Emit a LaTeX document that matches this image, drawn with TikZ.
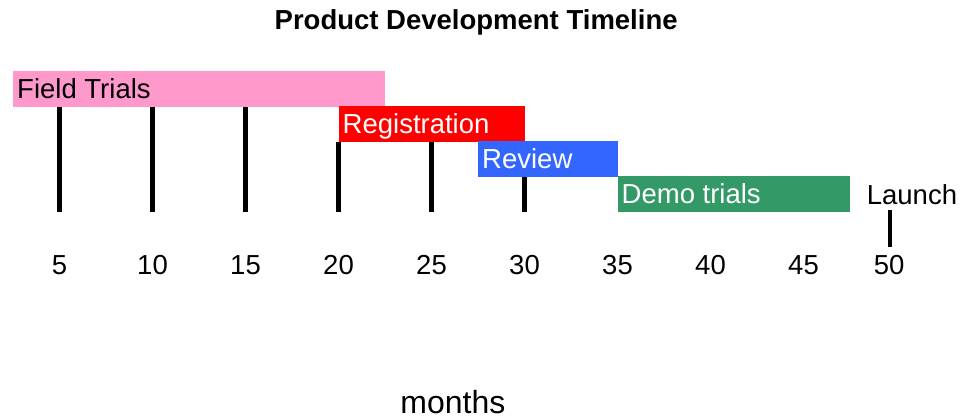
\documentclass[tikz,border=0pt]{standalone}
\usepackage{fontspec}
\setmainfont{Liberation Sans}
\definecolor{trialpink}{RGB}{255,153,204}
\definecolor{regred}{RGB}{255,0,0}
\definecolor{reviewblue}{RGB}{51,102,255}
\definecolor{demogreen}{RGB}{51,153,102}

\begin{document}
\begin{tikzpicture}[x=18.6pt, y=-1pt,
  bartext/.style={anchor=west, inner xsep=4pt, inner ysep=0pt, text height=19.8pt, text depth=0pt, font=\fontsize{27.5}{30}\selectfont},
  tickline/.style={line width=4.7pt},
  monthlabel/.style={font=\fontsize{27.5}{30}\selectfont}]

\useasboundingbox (1.8,0) rectangle (53.79,419);

% Title
\node[font=\bfseries\fontsize{27.5}{30}\selectfont] (title) at (27.4,22) {Product Development Timeline};

% month lines (bars go on top)
\foreach \m/\t in {5/107,10/107,15/107,20/142,25/142,30/177}
  \draw[tickline] (\m,\t) -- (\m,212);

% Phase bars
\fill[trialpink] (2.5,71) rectangle (22.5,107);
\node[bartext] (field) at (2.5,89) {Field Trials};

\fill[regred] (20,106) rectangle (30,142);
\node[bartext, text=white] (reg) at (20,124) {Registration};

\fill[reviewblue] (27.5,141) rectangle (35,177);
\node[bartext, text=white] (review) at (27.5,159) {Review};

\fill[demogreen] (35,176) rectangle (47.5,212);
\node[bartext, text=white] (demo) at (35,194) {Demo trials};

% Launch marker
\node[monthlabel, inner sep=0pt, text height=19.8pt, text depth=0pt] (launch) at (50.83,194.5) {Launch};
\coordinate (launchtop) at (49.65,210);
\coordinate (launchbot) at (49.65,247);
\draw[tickline] (launchtop) -- (launchbot);

% Axis labels
\foreach \m in {5,10,...,45}
  \node[monthlabel] (lab\m) at (\m,265) {\m};
\node[monthlabel] (lab50) at (49.6,265) {50};

\node[font=\fontsize{32}{36}\selectfont] (months) at (26.15,402) {months};

\end{tikzpicture}
\end{document}
